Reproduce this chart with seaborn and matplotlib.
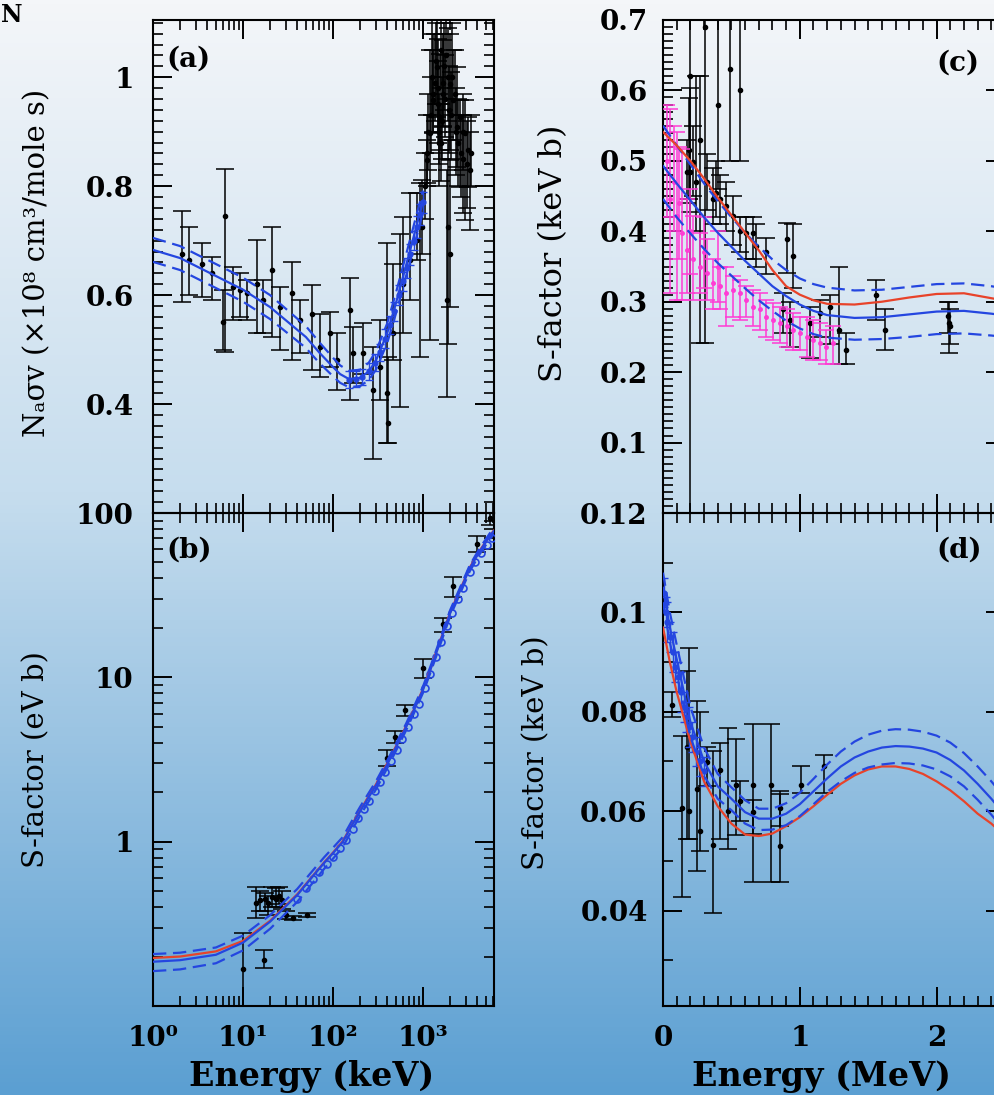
import numpy as np
import matplotlib
matplotlib.use("Agg")
import matplotlib.pyplot as plt
import seaborn as sns
from matplotlib.ticker import MultipleLocator, LogLocator, NullFormatter, FuncFormatter
from matplotlib.colors import LinearSegmentedColormap

# ---------------- panel (a): reaction rate vs energy (keV, log) ----------------
a_curve_E = [1, 2, 5, 10, 20, 50, 70, 100, 120, 150, 200, 250, 300, 400, 500, 700, 850, 1000]
a_mid = [0.683, 0.668, 0.635, 0.61, 0.578, 0.523, 0.495, 0.468, 0.455, 0.446, 0.448, 0.46, 0.48, 0.53, 0.585, 0.675, 0.728, 0.772]
a_up = [0.705, 0.69, 0.657, 0.632, 0.6, 0.543, 0.514, 0.485, 0.471, 0.461, 0.463, 0.476, 0.497, 0.548, 0.604, 0.695, 0.748, 0.792]
a_lo = [0.661, 0.646, 0.613, 0.588, 0.556, 0.503, 0.476, 0.451, 0.439, 0.431, 0.433, 0.444, 0.463, 0.512, 0.566, 0.655, 0.708, 0.752]

a_pts_E = [2.08, 2.5, 3.5, 4.5, 6.3, 6.0, 7.8, 9.3, 11, 14.2, 16.8, 20.8, 25.8, 34.7, 43, 58, 71.7, 92.6, 110, 154,
           168, 217, 280, 332, 395, 412, 468, 555, 604, 717, 851, 926, 966, 1097, 1196, 1250, 1303, 1419, 1500, 1545,
           1600, 1683, 1833, 1911, 1995, 1995, 2100, 2173, 2366, 2570, 2800, 2930, 3190,
           1050, 1120, 1150, 1220, 1280, 1350, 1380, 1450, 1480, 1520, 1570, 1620, 1650, 1720, 1760, 1800, 1880, 1950,
           2050, 2250, 2300, 2450, 2650, 2750, 3050, 3300, 3450]
a_pts_v = [0.676, 0.664, 0.658, 0.64, 0.745, 0.55, 0.615, 0.609, 0.603, 0.621, 0.591, 0.646, 0.579, 0.603, 0.554, 0.566, 0.505, 0.53, 0.481, 0.572,
           0.493, 0.493, 0.426, 0.468, 0.42, 0.365, 0.53, 0.603, 0.621, 0.664, 0.701, 0.744, 0.725, 0.848, 0.897, 1.0, 0.958, 1.019, 0.88, 0.927,
           1.05, 0.97, 0.591, 0.725, 0.988, 0.676, 1.0, 0.958, 0.909, 0.927, 0.85, 0.897, 0.866,
           0.80, 0.86, 0.90, 0.93, 0.97, 0.99, 1.03, 0.98, 0.95, 0.90, 0.88, 0.92, 0.99, 1.02, 0.96, 1.04, 1.00, 0.94,
           0.93, 0.97, 0.90, 0.88, 0.86, 0.90, 0.84, 0.83, 0.86]
a_pts_lo = [0.588, 0.6, 0.597, 0.591, 0.496, 0.5, 0.554, 0.56, 0.554, 0.53, 0.53, 0.524, 0.499, 0.481, 0.493, 0.462, 0.45, 0.468, 0.426, 0.407,
            0.438, 0.456, 0.3, 0.407, 0.328, 0.328, 0.481, 0.395, 0.53, 0.591, 0.664, 0.487, 0.676, 0.805, 0.517, 0.93, 0.897, 0.927, 0.8, 0.866,
            0.98, 0.909, 0.413, 0.511, 0.866, 0.579, 0.93, 0.884, 0.835, 0.799, 0.75, 0.738, 0.799,
            0.74, 0.80, 0.83, 0.86, 0.90, 0.92, 0.95, 0.90, 0.88, 0.84, 0.81, 0.85, 0.91, 0.94, 0.89, 0.96, 0.92, 0.86,
            0.85, 0.90, 0.82, 0.80, 0.78, 0.83, 0.76, 0.72, 0.80]
a_pts_hi = [0.755, 0.725, 0.695, 0.67, 0.832, 0.61, 0.652, 0.64, 0.628, 0.701, 0.628, 0.725, 0.615, 0.661, 0.591, 0.618, 0.566, 0.569, 0.53, 0.631,
            0.542, 0.548, 0.505, 0.554, 0.695, 0.487, 0.658, 0.713, 0.744, 0.787, 0.787, 0.805, 0.811, 0.884, 1.05, 1.12, 1.08, 1.12, 0.95, 1.043,
            1.12, 1.068, 0.829, 0.884, 1.08, 0.848, 1.1, 1.05, 1.019, 0.958, 0.93, 0.958, 0.927,
            0.86, 0.93, 0.97, 1.00, 1.05, 1.08, 1.10, 1.07, 1.03, 0.97, 0.95, 1.00, 1.08, 1.10, 1.04, 1.12, 1.09, 1.02,
            1.01, 1.05, 0.98, 0.96, 0.93, 0.97, 0.92, 0.90, 0.93]

a_blue_E = [150, 180, 210, 250, 290, 330, 380, 430, 480, 540, 600, 660, 720, 790, 860, 930, 1000]
a_blue_v = [0.445, 0.446, 0.45, 0.46, 0.476, 0.495, 0.52, 0.545, 0.57, 0.6, 0.625, 0.65, 0.675, 0.70, 0.725, 0.748, 0.77]
a_blue_err = [0.015, 0.014, 0.015, 0.016, 0.015, 0.016, 0.017, 0.016, 0.017, 0.018, 0.017, 0.018, 0.019, 0.018, 0.02, 0.019, 0.02]

# ---------------- panel (b): S-factor (eV b) vs energy (keV, log-log) ----------------
b_E = [1, 2, 5, 10, 20, 40, 60, 80, 100, 129, 160, 200, 300, 400, 500, 650, 800, 1000, 1200, 1400, 1700, 2000, 2600, 3300, 4300, 5500, 6150]
b_blue = [0.186, 0.19, 0.205, 0.243, 0.326, 0.473, 0.618, 0.745, 0.852, 1.0, 1.24, 1.53, 2.2, 2.95, 3.75, 5.0, 6.4, 8.4, 11.0, 14.0, 19.0, 24.5, 34.0, 46.0, 59.0, 72.0, 78.0]
b_red = [0.196, 0.2, 0.215, 0.249, 0.33, 0.478, 0.622, 0.75, 0.858, 1.01, 1.25, 1.55, 2.23, 3.0, 3.8, 5.05, 6.45, 8.5, 11.1, 14.2, 19.2, 24.8, 34.4, 46.5, 59.5, 72.5, 78.5]
b_up = [0.207, 0.211, 0.227, 0.268, 0.357, 0.515, 0.67, 0.805, 0.918, 1.07, 1.32, 1.63, 2.33, 3.11, 3.94, 5.24, 6.7, 8.8, 11.5, 14.6, 19.8, 25.6, 35.5, 48.0, 61.5, 75.0, 81.2]
b_lo = [0.163, 0.167, 0.182, 0.218, 0.295, 0.43, 0.565, 0.685, 0.788, 0.93, 1.16, 1.44, 2.08, 2.8, 3.57, 4.77, 6.12, 8.05, 10.55, 13.4, 18.2, 23.5, 32.6, 44.1, 56.6, 69.0, 74.8]

b_circ_E = [40, 50, 60, 70, 85, 100, 120, 140, 165, 190, 220, 250, 290, 330, 380, 440, 510, 590, 680, 790, 900, 1050, 1200, 1400,
            1600, 1850, 2100, 2450, 2800, 3300, 3800, 4400, 5100, 5800]
b_circ_S = [0.45, 0.52, 0.59, 0.65, 0.73, 0.81, 0.91, 1.02, 1.2, 1.39, 1.57, 1.76, 2.02, 2.3, 2.66, 3.1, 3.6, 4.2, 5.0, 6.0, 6.9, 8.6, 10.5, 13.3,
            16.4, 20.4, 24.7, 30.0, 35.0, 43.7, 50.0, 57.0, 64.0, 70.0]

b_pts_E = [10, 17, 14, 15.5, 17.5, 19, 21, 23, 25, 27, 30, 36, 51, 395, 490, 630, 1010, 1670, 2170, 3970, 5600]
b_pts_S = [0.167, 0.19, 0.425, 0.44, 0.45, 0.425, 0.46, 0.45, 0.47, 0.44, 0.36, 0.345, 0.36, 3.24, 4.35, 6.3, 11.4, 21.0, 35.8, 64.6, 93.6]
b_pts_lo = [0.09, 0.171, 0.343, 0.38, 0.38, 0.36, 0.40, 0.40, 0.42, 0.39, 0.34, 0.335, 0.35, 2.9, 4.0, 5.8, 9.9, 19.0, 31.0, 58.0, 85.0]
b_pts_hi = [0.277, 0.218, 0.527, 0.50, 0.49, 0.47, 0.53, 0.52, 0.53, 0.50, 0.38, 0.355, 0.37, 3.6, 4.7, 6.8, 13.0, 23.0, 41.0, 72.0, 102.0]

# ---------------- panel (c): S-factor (keV b) vs energy (MeV) ----------------
c_E = [0, 0.1, 0.2, 0.3, 0.4, 0.5, 0.6, 0.7, 0.8, 0.9, 1.0, 1.1, 1.2, 1.4, 1.6, 1.8, 2.0, 2.2, 2.4, 2.6]
c_red = [0.541, 0.522, 0.50, 0.475, 0.448, 0.423, 0.398, 0.373, 0.345, 0.322, 0.31, 0.302, 0.297, 0.296, 0.30, 0.306, 0.311, 0.312, 0.305, 0.298]
c_blue = [0.493, 0.468, 0.444, 0.42, 0.398, 0.378, 0.358, 0.34, 0.322, 0.308, 0.296, 0.287, 0.281, 0.277, 0.278, 0.282, 0.286, 0.287, 0.283, 0.278]
c_up = [0.55, 0.522, 0.495, 0.468, 0.443, 0.42, 0.398, 0.378, 0.36, 0.345, 0.333, 0.325, 0.32, 0.316, 0.317, 0.321, 0.325, 0.326, 0.322, 0.316]
c_lo = [0.446, 0.42, 0.397, 0.375, 0.355, 0.337, 0.319, 0.302, 0.287, 0.273, 0.262, 0.254, 0.249, 0.246, 0.247, 0.25, 0.254, 0.255, 0.252, 0.248]

c_blk_E = [0.2, 0.19, 0.2, 0.24, 0.27, 0.306, 0.403, 0.488, 0.56, 0.173, 0.221, 0.318, 0.367, 0.39, 0.416, 0.464, 0.513, 0.562,
           0.61, 0.659, 0.683, 0.756, 0.903, 0.951, 0.878, 0.927, 1.073, 1.146, 1.218, 1.29, 1.34, 1.56, 1.62, 2.09, 2.08, 2.10]
c_blk_S = [0.62, 0.515, 0.484, 0.47, 0.53, 0.69, 0.579, 0.631, 0.60, 0.484, 0.498, 0.47, 0.446, 0.455, 0.446, 0.436, 0.422, 0.40,
           0.398, 0.398, 0.379, 0.37, 0.389, 0.365, 0.289, 0.274, 0.27, 0.284, 0.293, 0.26, 0.231, 0.31, 0.26, 0.27, 0.28, 0.265]
c_blk_lo = [0.0, 0.446, 0.427, 0.40, 0.241, 0.241, 0.46, 0.50, 0.50, 0.44, 0.45, 0.43, 0.41, 0.42, 0.41, 0.40, 0.38, 0.37,
            0.36, 0.36, 0.35, 0.34, 0.341, 0.32, 0.255, 0.236, 0.22, 0.25, 0.24, 0.212, 0.212, 0.274, 0.231, 0.227, 0.255, 0.24]
c_blk_hi = [0.75, 0.589, 0.603, 0.62, 0.62, 0.75, 0.75, 0.75, 0.75, 0.53, 0.55, 0.51, 0.49, 0.50, 0.48, 0.47, 0.45, 0.42,
            0.42, 0.42, 0.41, 0.39, 0.412, 0.41, 0.312, 0.30, 0.293, 0.303, 0.31, 0.35, 0.255, 0.331, 0.29, 0.30, 0.30, 0.29]

c_mag_E = [0.03, 0.051, 0.08, 0.10, 0.12, 0.136, 0.173, 0.2, 0.221, 0.27, 0.3, 0.318, 0.367, 0.4, 0.416, 0.464, 0.513, 0.562, 0.61, 0.659,
           0.708, 0.756, 0.805, 0.854, 0.903, 0.951, 1.0, 1.049, 1.097, 1.146, 1.195, 1.243]
c_mag_S = [0.50, 0.446, 0.47, 0.422, 0.44, 0.398, 0.374, 0.40, 0.36, 0.35, 0.37, 0.341, 0.327, 0.35, 0.322, 0.312, 0.317, 0.312, 0.303, 0.293,
           0.289, 0.279, 0.274, 0.27, 0.265, 0.26, 0.255, 0.25, 0.246, 0.241, 0.236, 0.241]
c_mag_lo = [0.42, 0.312, 0.40, 0.303, 0.36, 0.303, 0.312, 0.34, 0.303, 0.312, 0.32, 0.303, 0.289, 0.30, 0.289, 0.265, 0.279, 0.274, 0.279, 0.265,
            0.26, 0.25, 0.246, 0.241, 0.236, 0.231, 0.231, 0.222, 0.217, 0.217, 0.212, 0.212]
c_mag_hi = [0.58, 0.574, 0.55, 0.541, 0.52, 0.517, 0.446, 0.46, 0.422, 0.398, 0.42, 0.389, 0.36, 0.40, 0.35, 0.35, 0.336, 0.331, 0.322, 0.317,
            0.312, 0.303, 0.298, 0.293, 0.289, 0.284, 0.279, 0.279, 0.274, 0.27, 0.26, 0.265]

# ---------------- panel (d): S-factor (keV b) vs energy (MeV) ----------------
d_E = [0, 0.05, 0.1, 0.2, 0.3, 0.4, 0.5, 0.6, 0.7, 0.8, 0.9, 1.0, 1.1, 1.2, 1.3, 1.4, 1.5, 1.6, 1.7, 1.8, 1.9, 2.0, 2.1, 2.2, 2.3, 2.4, 2.5, 2.6]
d_blue = [0.105, 0.097, 0.0906, 0.078, 0.070, 0.065, 0.0625, 0.0598, 0.0585, 0.0585, 0.0595, 0.0614, 0.064, 0.0666, 0.069, 0.0708, 0.072, 0.0728,
          0.0731, 0.073, 0.0726, 0.0718, 0.0703, 0.0682, 0.0655, 0.0625, 0.0592, 0.056]
d_up = [0.108, 0.1, 0.0935, 0.081, 0.0728, 0.0675, 0.0648, 0.0622, 0.0605, 0.0605, 0.0616, 0.0637, 0.0665, 0.0694, 0.072, 0.074, 0.0754, 0.0762,
        0.0765, 0.0764, 0.076, 0.0752, 0.0738, 0.0717, 0.069, 0.066, 0.0627, 0.0595]
d_lo = [0.102, 0.094, 0.0877, 0.075, 0.0672, 0.0625, 0.0602, 0.0575, 0.0562, 0.0563, 0.0572, 0.059, 0.0614, 0.0639, 0.066, 0.0677, 0.0688, 0.0694,
        0.0697, 0.0696, 0.0692, 0.0684, 0.067, 0.065, 0.0623, 0.0593, 0.056, 0.0528]
d_red = [0.097, 0.09, 0.084, 0.074, 0.066, 0.061, 0.0575, 0.0553, 0.055, 0.0555, 0.057, 0.0588, 0.061, 0.0633, 0.0655, 0.0672, 0.0684, 0.069,
         0.069, 0.0685, 0.0675, 0.066, 0.0642, 0.062, 0.0595, 0.0575, 0.055, 0.0525]

d_blk_E = [0.063, 0.136, 0.173, 0.19, 0.246, 0.27, 0.318, 0.367, 0.416, 0.476, 0.537, 0.562, 0.659, 0.659, 0.793, 0.854, 0.854, 1.012, 1.18]
d_blk_S = [0.0814, 0.0607, 0.0729, 0.060, 0.0645, 0.056, 0.0698, 0.0531, 0.0683, 0.060, 0.0653, 0.062, 0.0653, 0.0598, 0.0653, 0.053, 0.0607, 0.0653, 0.0691]
d_blk_lo = [0.079, 0.0427, 0.0545, 0.0545, 0.048, 0.052, 0.065, 0.0396, 0.0545, 0.0523, 0.0553, 0.058, 0.0457, 0.0554, 0.0457, 0.0457, 0.057, 0.0637, 0.0637]
d_blk_hi = [0.084, 0.0752, 0.0883, 0.0929, 0.0821, 0.080, 0.073, 0.0722, 0.0737, 0.0768, 0.0745, 0.066, 0.0775, 0.0623, 0.0775, 0.0634, 0.064, 0.0691, 0.0714]

d_bl_E = [0.01, 0.02, 0.03, 0.05, 0.07, 0.09, 0.11, 0.13, 0.15, 0.17, 0.19, 0.21, 0.24, 0.27, 0.3]
d_bl_S = [0.104, 0.1, 0.098, 0.095, 0.092, 0.089, 0.087, 0.084, 0.081, 0.079, 0.077, 0.075, 0.072, 0.07, 0.068]
d_bl_err = [0.003, 0.003, 0.004, 0.003, 0.004, 0.003, 0.003, 0.004, 0.003, 0.003, 0.004, 0.003, 0.003, 0.003, 0.003]

# ---------------- styling ----------------
sns.set_theme(style="ticks")
FONT = ["DejaVu Serif", "DejaVu Sans"]
plt.rcParams["font.family"] = FONT
plt.rcParams["font.weight"] = "bold"
plt.rcParams["axes.linewidth"] = 1.5
for key in ("text.color", "axes.labelcolor", "xtick.color", "ytick.color", "axes.edgecolor"):
    plt.rcParams[key] = "black"

BLUE = "#2446e0"
RED = "#e8432a"
MAG = "#ff3bd4"
BLACK = "#000000"

W, H = 994, 1095
fig = plt.figure(figsize=(W / 100, H / 100), dpi=100)

# background gradient (white at top to blue at bottom)
bg = fig.add_axes([0, 0, 1, 1], zorder=-10)
cmap = LinearSegmentedColormap.from_list("bg", [(0, "#f4f6f9"), (0.45, "#c6ddee"), (1, "#5b9fd2")])
bg.imshow(np.linspace(0, 1, 256)[:, None], aspect="auto", cmap=cmap, extent=[0, 1, 0, 1], origin="upper")
bg.axis("off")


def px_axes(x0, y0, x1, y1):
    return fig.add_axes([x0 / W, 1 - y1 / H, (x1 - x0) / W, (y1 - y0) / H])


ax_a = px_axes(153, 20, 494, 513)
ax_b = px_axes(153, 513, 494, 1006)
ax_c = px_axes(663, 20, 1005, 513)
ax_d = px_axes(663, 513, 1005, 1006)

for ax in (ax_a, ax_b, ax_c, ax_d):
    ax.set_facecolor("none")
    ax.tick_params(which="both", direction="in", top=True, right=True, colors="black",
                   labelcolor="black", labelsize=20, width=1.4)
    ax.tick_params(which="major", length=14)
    ax.tick_params(which="minor", length=7, width=1.2)
    for s in ax.spines.values():
        s.set_color("black")
        s.set_linewidth(1.5)


def errbars(ax, x, y, lo, hi, color, ms=3.0, cap=6.5, z=2, lw=1.1):
    x = np.asarray(x, float)
    y = np.asarray(y, float)
    lo = np.asarray(lo, float)
    hi = np.asarray(hi, float)
    yerr = [np.clip(y - lo, 0, None), np.clip(hi - y, 0, None)]
    ax.errorbar(x, y, yerr=yerr, fmt="o", color=color, ms=ms, capsize=cap,
                elinewidth=lw, capthick=lw, zorder=z)


def curve(ax, x, y, color, dashed=False, z=4):
    sns.lineplot(x=x, y=y, ax=ax, color=color, lw=1.6, zorder=z,
                 linestyle=(0, (6, 3)) if dashed else "-", legend=False)


fmt_g = FuncFormatter(lambda v, p: f"{v:g}")
YL = dict(fontsize=21, fontweight="normal", color="black")
XL = dict(fontsize=24, fontweight="bold", color="black")
PL = dict(fontsize=20, fontweight="bold", color="black", va="center", ha="left")

# ---- (a)
ax_a.set_xscale("log")
errbars(ax_a, a_pts_E, a_pts_v, a_pts_lo, a_pts_hi, BLACK, z=2)
ax_a.errorbar(a_blue_E, a_blue_v, yerr=a_blue_err, fmt="o", color=BLUE, ms=3.5, capsize=3, elinewidth=1.0, zorder=3)
curve(ax_a, a_curve_E, a_mid, BLUE)
curve(ax_a, a_curve_E, a_up, BLUE, dashed=True)
curve(ax_a, a_curve_E, a_lo, BLUE, dashed=True)
ax_a.set_xlim(1, 6150)
ax_a.set_ylim(0.2, 1.105)
ax_a.set_yticks([0.4, 0.6, 0.8, 1.0])
ax_a.yaxis.set_major_formatter(fmt_g)
ax_a.yaxis.set_minor_locator(MultipleLocator(0.02))
ax_a.xaxis.set_major_locator(LogLocator(base=10, numticks=10))
ax_a.xaxis.set_minor_locator(LogLocator(base=10, subs=np.arange(2, 10), numticks=20))
ax_a.tick_params(axis="x", which="both", labelbottom=False)
ax_a.tick_params(axis="y", pad=14)
ax_a.set_xlabel("")
ax_a.set_ylabel("Nₐσv (×10⁸ cm³/mole s)", **YL)
ax_a.yaxis.label.set_va("center")
ax_a.yaxis.set_label_coords(-0.34, 0.507)
ax_a.text(0.04, 0.92, "(a)", transform=ax_a.transAxes, **PL)

# ---- (b)
ax_b.set_xscale("log")
ax_b.set_yscale("log")
errbars(ax_b, b_pts_E, b_pts_S, b_pts_lo, b_pts_hi, BLACK, z=2)
ax_b.plot(b_circ_E, b_circ_S, "o", mfc="none", mec=BLUE, ms=5, mew=1.2, zorder=3)
curve(ax_b, b_E, b_red, RED, z=4)
curve(ax_b, b_E, b_blue, BLUE, z=5)
curve(ax_b, b_E, b_up, BLUE, dashed=True)
curve(ax_b, b_E, b_lo, BLUE, dashed=True)
ax_b.set_xlim(1, 6150)
ax_b.set_ylim(0.1, 100)
ax_b.set_xticks([1, 10, 100, 1000], labels=["10⁰", "10¹", "10²", "10³"])
ax_b.xaxis.set_minor_locator(LogLocator(base=10, subs=np.arange(2, 10), numticks=20))
ax_b.xaxis.set_minor_formatter(NullFormatter())
ax_b.set_yticks([1, 10, 100], labels=["1", "10", "100"])
ax_b.yaxis.set_minor_locator(LogLocator(base=10, subs=np.arange(2, 10), numticks=20))
ax_b.yaxis.set_minor_formatter(NullFormatter())
ax_b.tick_params(axis="y", pad=14)
ax_b.tick_params(axis="x", pad=14)
ax_b.set_xlabel("Energy (keV)", **XL)
ax_b.xaxis.set_label_coords(0.466, -0.144)
ax_b.xaxis.label.set_va("center")
ax_b.set_ylabel("S-factor (eV b)", **YL)
ax_b.yaxis.label.set_va("center")
ax_b.yaxis.set_label_coords(-0.343, 0.5)
ax_b.text(0.04, 0.925, "(b)", transform=ax_b.transAxes, **PL)

# ---- (c)
errbars(ax_c, c_blk_E, c_blk_S, c_blk_lo, c_blk_hi, BLACK, z=2)
errbars(ax_c, c_mag_E, c_mag_S, c_mag_lo, c_mag_hi, MAG, ms=2.5, cap=6, z=3)
curve(ax_c, c_E, c_red, RED, z=5)
curve(ax_c, c_E, c_blue, BLUE, z=5)
curve(ax_c, c_E, c_up, BLUE, dashed=True)
curve(ax_c, c_E, c_lo, BLUE, dashed=True)
ax_c.set_xlim(0, 2.5)
ax_c.set_ylim(0, 0.7)
ax_c.set_yticks([0.1, 0.2, 0.3, 0.4, 0.5, 0.6, 0.7])
ax_c.yaxis.set_major_formatter(fmt_g)
ax_c.yaxis.set_minor_locator(MultipleLocator(0.01))
ax_c.xaxis.set_major_locator(MultipleLocator(1))
ax_c.xaxis.set_minor_locator(MultipleLocator(0.1))
ax_c.tick_params(axis="x", which="both", labelbottom=False)
ax_c.tick_params(axis="y", pad=11)
ax_c.set_xlabel("")
ax_c.set_ylabel("S-factor (keV b)", fontsize=23, fontweight="normal", color="black")
ax_c.yaxis.label.set_va("center")
ax_c.yaxis.set_label_coords(-0.319, 0.527)
ax_c.text(0.80, 0.913, "(c)", transform=ax_c.transAxes, **PL)

# ---- (d)
errbars(ax_d, d_blk_E, d_blk_S, d_blk_lo, d_blk_hi, BLACK, z=2)
ax_d.errorbar(d_bl_E, d_bl_S, yerr=d_bl_err, fmt="o", color=BLUE, ms=3.5, capsize=3, elinewidth=1.0, zorder=3)
curve(ax_d, d_E, d_red, RED, z=4)
curve(ax_d, d_E, d_blue, BLUE, z=5)
curve(ax_d, d_E, d_up, BLUE, dashed=True)
curve(ax_d, d_E, d_lo, BLUE, dashed=True)
ax_d.set_xlim(0, 2.5)
ax_d.set_ylim(0.0208, 0.12)
ax_d.set_yticks([0.04, 0.06, 0.08, 0.1, 0.12])
ax_d.yaxis.set_major_formatter(fmt_g)
ax_d.yaxis.set_minor_locator(MultipleLocator(0.01))
ax_d.set_xticks([0, 1, 2])
ax_d.xaxis.set_major_formatter(fmt_g)
ax_d.xaxis.set_minor_locator(MultipleLocator(0.1))
ax_d.tick_params(axis="y", pad=11)
ax_d.tick_params(axis="x", pad=14)
ax_d.set_xlabel("Energy (MeV)", **XL)
ax_d.xaxis.set_label_coords(0.462, -0.144)
ax_d.xaxis.label.set_va("center")
ax_d.set_ylabel("S-factor (keV b)", **YL)
ax_d.yaxis.label.set_va("center")
ax_d.yaxis.set_label_coords(-0.371, 0.513)
ax_d.text(0.80, 0.925, "(d)", transform=ax_d.transAxes, **PL)

# letter at the top-left corner of the original slide
fig.text(0.001, 0.997, "N", fontsize=17, ha="left", va="top", color="black")

fig.savefig("out.png", dpi=100)
